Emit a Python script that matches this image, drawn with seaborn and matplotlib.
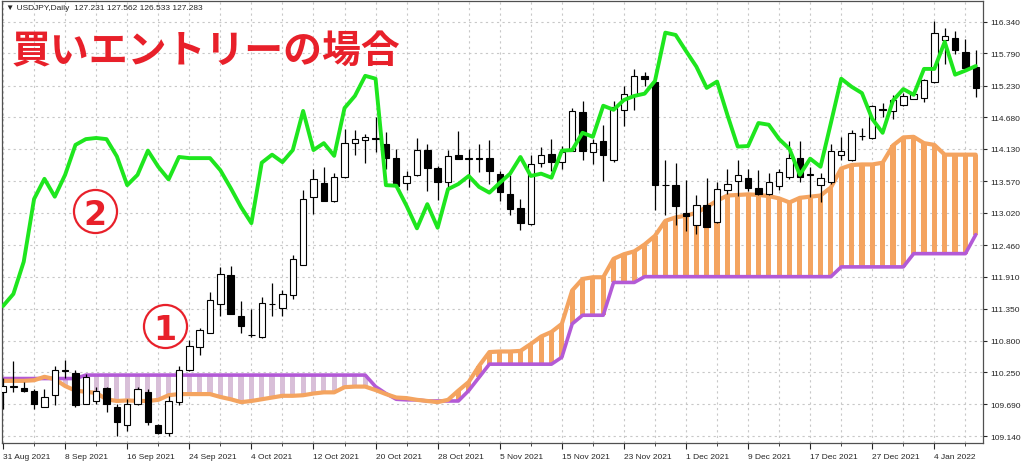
import numpy as np
import pandas as pd
import matplotlib
matplotlib.use("Agg")
import matplotlib.pyplot as plt
import seaborn as sns

# USDJPY daily candles, 31 Aug 2021 .. 10 Jan 2022 (one entry per trading day)
opens = [109.90, 110.00, 109.98, 109.93, 109.65, 109.86, 110.27, 110.24, 109.70, 109.75,
         109.98, 109.64, 109.33, 109.70, 109.90, 109.33, 109.19, 109.73, 110.28, 110.68,
         110.94, 111.44, 111.94, 111.23, 110.89, 110.86, 111.43, 111.37, 111.60, 112.12,
         113.29, 113.54, 113.22, 113.64, 114.23, 114.29, 114.32, 114.21, 113.97, 113.54,
         113.68, 114.11, 113.80, 113.55, 114.02, 113.96, 113.97, 113.98, 113.70, 113.35,
         113.10, 112.83, 113.89, 114.04, 113.91, 114.10, 114.77, 114.07, 114.26, 113.93,
         114.81, 115.07, 115.39, 115.29, 113.51, 113.51, 113.02, 112.80, 113.15, 112.86,
         113.42, 113.57, 113.63, 113.45, 113.35, 113.49, 113.65, 113.97, 113.67, 113.50,
         113.55, 114.03, 113.93, 114.35, 114.32, 114.81, 114.79, 114.89, 115.00, 115.01,
         115.29, 116.03, 116.06, 115.81, 115.56]
highs = [110.15, 110.45, 110.08, 109.96, 109.96, 110.36, 110.47, 110.28, 110.22, 110.00,
         110.00, 109.70, 109.78, 110.00, 109.96, 109.35, 109.84, 110.36, 110.81, 111.02,
         111.65, 112.08, 112.09, 111.49, 111.35, 111.56, 111.80, 111.67, 112.28, 113.41,
         113.78, 113.81, 113.71, 114.47, 114.45, 114.39, 114.69, 114.42, 114.13, 113.75,
         114.32, 114.22, 113.84, 114.11, 114.44, 114.13, 114.21, 114.28, 113.75, 113.67,
         113.26, 114.02, 114.16, 114.30, 114.18, 114.84, 114.97, 114.30, 114.54, 114.97,
         115.23, 115.52, 115.46, 115.30, 113.94, 113.88, 113.59, 113.33, 113.63, 113.56,
         113.78, 113.94, 113.78, 113.77, 113.71, 113.78, 114.26, 114.26, 113.81, 113.71,
         114.22, 114.34, 114.45, 114.50, 114.90, 114.93, 115.06, 115.10, 115.14, 115.35,
         116.35, 116.23, 116.18, 116.04, 115.85]
lows = [109.61, 109.90, 109.90, 109.61, 109.64, 109.68, 110.15, 109.65, 109.69, 109.70,
        109.56, 109.14, 109.23, 109.68, 109.33, 109.18, 109.14, 109.68, 110.27, 110.55,
        110.93, 111.23, 111.27, 110.93, 110.86, 110.85, 111.22, 111.23, 111.52, 112.11,
        113.00, 113.22, 113.21, 113.63, 114.02, 113.88, 114.07, 113.78, 113.48, 113.42,
        113.66, 113.39, 113.25, 113.46, 113.95, 113.46, 113.73, 113.52, 113.23, 112.99,
        112.72, 112.80, 113.81, 113.75, 113.78, 114.09, 113.93, 113.87, 113.58, 113.91,
        114.53, 114.80, 115.23, 113.06, 112.99, 112.80, 112.71, 112.66, 112.86, 112.84,
        113.35, 113.32, 113.40, 113.33, 113.33, 113.42, 113.61, 113.55, 113.29, 113.20,
        113.52, 113.93, 113.92, 114.29, 114.30, 114.69, 114.65, 114.88, 114.99, 114.94,
        115.28, 115.61, 115.78, 115.49, 115.03]
closes = [110.01, 110.01, 109.92, 109.70, 109.82, 110.28, 110.28, 109.68, 110.17, 109.92,
          109.70, 109.38, 109.70, 109.96, 109.38, 109.19, 109.75, 110.29, 110.71, 110.99,
          111.51, 111.96, 111.27, 111.06, 110.90, 111.45, 111.44, 111.61, 112.22, 113.26,
          113.61, 113.22, 113.65, 114.23, 114.31, 114.33, 114.31, 113.97, 113.48, 113.66,
          114.11, 113.79, 113.56, 114.01, 113.95, 113.97, 113.96, 113.74, 113.38, 113.09,
          112.84, 113.87, 114.02, 113.90, 114.08, 114.78, 114.10, 114.23, 114.02, 114.86,
          115.09, 115.39, 115.34, 113.51, 113.50, 113.13, 112.97, 113.16, 112.78, 113.43,
          113.52, 113.67, 113.45, 113.35, 113.55, 113.73, 113.98, 113.64, 113.69, 113.62,
          114.09, 114.10, 114.40, 114.36, 114.88, 114.82, 114.98, 115.05, 115.09, 115.33,
          116.14, 116.10, 115.85, 115.54, 115.19]

# Ichimoku lines as drawn on the chart
chikou = [111.40, 111.61, 112.17, 113.26, 113.61, 113.30, 113.68, 114.20, 114.30, 114.32,
          114.30, 114.00, 113.50, 113.68, 114.10, 113.82, 113.60, 113.99, 113.97, 113.97,
          113.97, 113.76, 113.45, 113.12, 112.84, 113.89, 114.03, 113.90, 114.11, 114.79,
          114.11, 114.23, 114.01, 114.84, 115.05, 115.40, 115.35, 113.50, 113.49, 113.14,
          112.75, 113.17, 112.76, 113.43, 113.52, 113.66, 113.47, 113.37, 113.54, 113.70,
          113.99, 113.66, 113.70, 113.63, 114.10, 114.11, 114.41, 114.34, 114.88, 114.81,
          114.98, 115.05, 115.09, 115.31, 116.15, 116.11, 115.83, 115.56, 115.19, 115.30,
          114.72, 114.17, 114.18, 114.58, 114.55, 114.30, 114.13, 113.68, 113.96, 113.82,
          114.58, 115.35, 115.21, 115.10, 114.65, 114.41, 114.97, 115.17, 115.07, 115.52,
          115.52, 115.99, 115.42, 115.49, 115.57]
span_a = [110.10, 110.10, 110.10, 110.11, 110.17, 110.13, 110.01, 109.93, 109.91, 109.89,
          109.78, 109.75, 109.76, 109.75, 109.75, 109.77, 109.85, 109.87, 109.87, 109.87,
          109.87, 109.82, 109.78, 109.73, 109.75, 109.78, 109.81, 109.84, 109.84, 109.85,
          109.88, 109.90, 109.90, 109.99, 110.00, 110.00, 109.94, 109.87, 109.81, 109.80,
          109.77, 109.75, 109.73, 109.77, 109.93, 110.08, 110.36, 110.60, 110.61, 110.61,
          110.62, 110.74, 110.87, 110.95, 111.09, 111.67, 111.87, 111.90, 111.90, 112.22,
          112.30, 112.35, 112.47, 112.62, 112.88, 112.94, 112.97, 113.02, 113.12, 113.23,
          113.32, 113.33, 113.34, 113.33, 113.31, 113.27, 113.20, 113.28, 113.30, 113.32,
          113.46, 113.79, 113.85, 113.86, 113.86, 113.89, 114.19, 114.33, 114.34, 114.23,
          114.20, 114.03, 114.03, 114.03, 114.03]
span_b = [110.14, 110.14, 110.14, 110.14, 110.14, 110.14, 110.14, 110.14, 110.20, 110.20,
          110.20, 110.20, 110.20, 110.20, 110.20, 110.20, 110.20, 110.20, 110.20, 110.20,
          110.20, 110.20, 110.20, 110.20, 110.20, 110.20, 110.20, 110.20, 110.20, 110.20,
          110.20, 110.20, 110.20, 110.20, 110.20, 110.20, 110.00, 109.88, 109.78, 109.77,
          109.77, 109.75, 109.75, 109.75, 109.75, 109.93, 110.16, 110.39, 110.39, 110.39,
          110.39, 110.39, 110.39, 110.39, 110.51, 111.09, 111.24, 111.24, 111.24, 111.81,
          111.81, 111.81, 111.91, 111.91, 111.91, 111.91, 111.91, 111.91, 111.91, 111.91,
          111.91, 111.91, 111.91, 111.91, 111.91, 111.91, 111.91, 111.91, 111.91, 111.91,
          111.91, 112.08, 112.08, 112.08, 112.08, 112.08, 112.08, 112.08, 112.31, 112.31,
          112.31, 112.31, 112.31, 112.31, 112.64]

date_labels = ["31 Aug 2021", "8 Sep 2021", "16 Sep 2021", "24 Sep 2021", "4 Oct 2021",
               "12 Oct 2021", "20 Oct 2021", "28 Oct 2021", "5 Nov 2021", "15 Nov 2021",
               "23 Nov 2021", "1 Dec 2021", "9 Dec 2021", "17 Dec 2021", "27 Dec 2021",
               "4 Jan 2022"]
price_ticks = [109.140, 109.690, 110.250, 110.800, 111.350, 111.910, 112.460,
               113.020, 113.570, 114.130, 114.680, 115.230, 115.790, 116.340]

df = pd.DataFrame({"open": opens, "high": highs, "low": lows, "close": closes,
                   "chikou": chikou, "span_a": span_a, "span_b": span_b})
df["bar"] = np.arange(len(df))

sns.set_style("white")
plt.rcParams["font.family"] = ["Liberation Sans", "DejaVu Sans"]

fig = plt.figure(figsize=(10.24, 4.64), dpi=100)
ax = fig.add_axes([2 / 1024, 1 - 444 / 464, 981 / 1024, 442 / 464])

RED = "#e8202a"
ORANGE = "#f4a460"
THISTLE = "#d8bfd8"
PURPLE = "#b35ad6"
GREEN = "#1ee61e"

# cloud hatch
lo = np.minimum(df.span_a, df.span_b)
hi = np.maximum(df.span_a, df.span_b)
hatch_col = np.where(df.span_a >= df.span_b, ORANGE, THISTLE)
ax.bar(df.bar, hi - lo, bottom=lo, width=0.5, color=hatch_col, lw=0, zorder=1)

sns.lineplot(data=df, x="bar", y="span_b", ax=ax, color=PURPLE, lw=2.6, zorder=2)
sns.lineplot(data=df, x="bar", y="span_a", ax=ax, color=ORANGE, lw=3, zorder=2)

# candles
up = df[df.close >= df.open]
dn = df[df.close < df.open]
ax.vlines(df.bar, df.low, df.high, color="black", lw=0.9, zorder=3)
ax.bar(up.bar, up.close - up.open, bottom=up.open, width=0.62,
       color="white", edgecolor="black", lw=0.8, zorder=4)
ax.bar(dn.bar, dn.open - dn.close, bottom=dn.close, width=0.62,
       color="black", edgecolor="black", lw=0.8, zorder=4)

sns.lineplot(data=df, x="bar", y="chikou", ax=ax, color=GREEN, lw=2.8, zorder=5)
for ln in ax.lines:
    ln.set_solid_joinstyle("round")

ax.set_xlim(-0.1, 94.7)
ax.set_ylim(109.02, 116.70)
ax.set_xlabel("")
ax.set_ylabel("")

ax.set_xticks(np.arange(0, 91, 6))
ax.set_xticklabels(date_labels, ha="left", fontsize=6)
ax.set_xticks(np.arange(3, 94, 6), minor=True)
ax.yaxis.tick_right()
ax.set_yticks(price_ticks)
ax.set_yticklabels([f"{p:.3f}" for p in price_ticks], fontsize=6)
ax.tick_params(axis="x", which="major", length=4, width=0.8, pad=3, direction="out", bottom=True)
ax.tick_params(axis="x", which="minor", length=2, width=0.6, direction="out", bottom=True)
ax.tick_params(axis="y", length=3, width=0.8, pad=2, direction="out", right=True)
ax.grid(True, which="both", color="#c8c8c8", ls=(0, (2, 3)), lw=0.8)
ax.set_axisbelow(True)
for sp in ax.spines.values():
    sp.set_color("#505050")
    sp.set_linewidth(0.9)

# header and annotations
ax.text(0.004, 0.986, "\u25bc USDJPY,Daily  127.231 127.562 126.533 127.283",
        transform=ax.transAxes, fontsize=6, va="center", ha="left",
        family=["Liberation Sans", "DejaVu Sans"])
ax.text(0.0102, 0.887, "買いエントリーの場合", transform=ax.transAxes, fontsize=28,
        fontweight="bold", color=RED, va="center", ha="left",
        family=["Noto Sans CJK JP", "DejaVu Sans"], zorder=7)
for fx, fy, num in [(0.166, 0.265, "1"), (0.0948, 0.524, "2")]:
    ax.plot([fx], [fy], transform=ax.transAxes, marker="o", ms=31, mfc="white",
            mec=RED, mew=1.6, zorder=7, clip_on=False)
    ax.text(fx, fy, num, transform=ax.transAxes, fontsize=24, fontweight="bold",
            color=RED, ha="center", va="center_baseline", family=["DejaVu Sans"], zorder=8)

fig.savefig("out.png", dpi=100)
